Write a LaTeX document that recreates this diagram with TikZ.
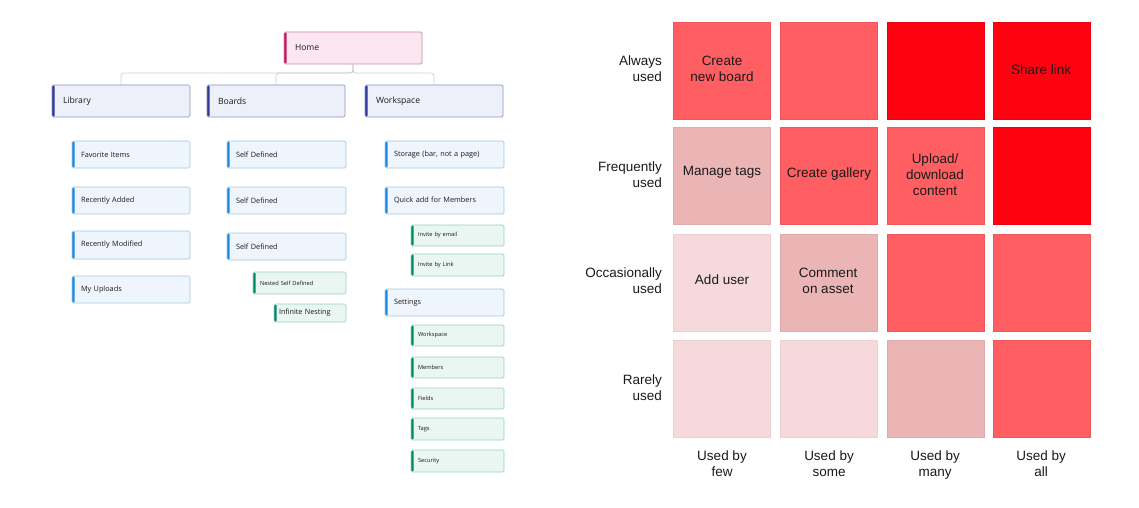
\documentclass[tikz,border=0pt]{standalone}
\usepackage{fontspec}
\setmainfont{Liberation Sans}
\newfontfamily\treefont{Open Sans}
\definecolor{homefill}{HTML}{FCE6EF}
\definecolor{homedraw}{HTML}{C98AA8}
\definecolor{homebar}{HTML}{C2185B}
\definecolor{l1fill}{HTML}{EEF0F9}
\definecolor{l1draw}{HTML}{8C90BE}
\definecolor{l1bar}{HTML}{2E3A9A}
\definecolor{l2fill}{HTML}{EEF5FC}
\definecolor{l2draw}{HTML}{A6C8E2}
\definecolor{l2bar}{HTML}{1E88E5}
\definecolor{l3fill}{HTML}{E9F6F1}
\definecolor{l3draw}{HTML}{96D2C0}
\definecolor{l3bar}{HTML}{008A68}
\definecolor{connc}{HTML}{CFCFCF}
\definecolor{hstrong}{HTML}{FF0212}
\definecolor{hmed}{HTML}{FF5F63}
\definecolor{hlight}{HTML}{EBB5B6}
\definecolor{hvlight}{HTML}{F6DADB}
\definecolor{txt}{HTML}{1A1A1A}
\tikzset{
  tbase/.style={rectangle, rounded corners=1.5pt, line width=0.7pt, outer sep=0pt, text=txt},
  barstyle/.style={path picture={\fill[#1] (path picture bounding box.south west) rectangle ([xshift=2.6pt]path picture bounding box.north west);}},
  homebox/.style={tbase, fill=homefill, draw=homedraw, barstyle=homebar, font=\treefont\fontsize{8.5}{10}\selectfont},
  lone/.style={tbase, fill=l1fill, draw=l1draw, barstyle=l1bar, font=\treefont\fontsize{8.6}{10}\selectfont},
  ltwo/.style={tbase, fill=l2fill, draw=l2draw, barstyle=l2bar, font=\treefont\fontsize{7.3}{9}\selectfont},
  lthree/.style={tbase, fill=l3fill, draw=l3draw, barstyle=l3bar, font=\treefont\fontsize{5.7}{7}\selectfont},
  lthreebig/.style={lthree, font=\treefont\fontsize{7.2}{9}\selectfont},
  conn/.style={draw=connc, line width=0.8pt, rounded corners=3pt},
  cell/.style={rectangle, anchor=north west, minimum width=97pt, minimum height=97pt, outer sep=0pt, inner sep=0pt, line width=0.4pt, align=center, text=txt, font=\fontsize{13.5}{16}\selectfont},
  cstrong/.style={cell, fill=hstrong, draw=hstrong!92!black},
  cmed/.style={cell, fill=hmed, draw=hmed!92!black},
  clight/.style={cell, fill=hlight, draw=hlight!95!black},
  cvlight/.style={cell, fill=hvlight, draw=hvlight!96!black},
  ctext/.style={align=center, text=txt, font=\fontsize{13.5}{16}\selectfont},
  axlab/.style={align=right, anchor=east, text=txt, inner sep=0pt, font=\fontsize{13.5}{16}\selectfont},
  collab/.style={align=center, anchor=north, text=txt, inner sep=0pt, font=\fontsize{13.5}{16}\selectfont},
}
% #1 style, #2 name, #3 x, #4 y, #5 w, #6 h, #7 inset, #8 text
\newcommand\tbx[8]{%
  \pgfmathsetmacro\tbxw{#5-2*#7}%
  \node[#1, anchor=north west, inner xsep=#7pt, inner ysep=0pt, text width=\tbxw pt, minimum height=#6pt, align=left] (#2) at (#3,#4) {#8};}
\begin{document}
\begin{tikzpicture}[x=1pt,y=-1pt]
\useasboundingbox[fill=white] (0,0) rectangle (1139,508);
% ---------- tree ----------
\tbx{homebox}{home}{284}{32}{138}{32}{11}{Home}
\tbx{lone}{library}{52}{85}{138}{32}{11}{Library}
\tbx{lone}{boards}{207}{85}{138}{32}{11}{Boards}
\tbx{lone}{workspace}{365}{85}{138}{32}{11}{Workspace}
\draw[conn] (home.south) -- ++(0,9) -| (library.north);
\draw[conn] (home.south) -- ++(0,9) -| (boards.north);
\draw[conn] (home.south) -- ++(0,9) -| (workspace.north);
% library children
\tbx{ltwo}{fav}{72}{141}{118}{27}{9}{Favorite Items}
\tbx{ltwo}{radded}{72}{187}{118}{27}{9}{Recently Added}
\tbx{ltwo}{rmod}{72}{231}{118}{28}{9}{Recently Modified}
\tbx{ltwo}{uploads}{72}{276}{118}{27}{9}{My Uploads}
% boards children
\tbx{ltwo}{sdone}{227}{141}{119}{27}{9}{Self Defined}
\tbx{ltwo}{sdtwo}{227}{187}{119}{27}{9}{Self Defined}
\tbx{ltwo}{sdthree}{227}{233}{119}{27}{9}{Self Defined}
\tbx{lthree}{nested}{253}{272}{93}{22}{7}{Nested Self Defined}
\tbx{lthreebig}{infinite}{274}{304}{72}{18}{5}{Infinite Nesting}
% workspace children
\tbx{ltwo}{storage}{385}{141}{119}{27}{9}{Storage (bar, not a page)}
\tbx{ltwo}{quickadd}{385}{187}{119}{27}{9}{Quick add for Members}
\tbx{lthree}{invemail}{411}{225}{93}{21}{7}{Invite by email}
\tbx{lthree}{invlink}{411}{254}{93}{22}{7}{Invite by Link}
\tbx{ltwo}{settings}{385}{289}{119}{27}{9}{Settings}
\tbx{lthree}{setws}{411}{325}{93}{21}{7}{Workspace}
\tbx{lthree}{setmem}{411}{357}{93}{21}{7}{Members}
\tbx{lthree}{setfields}{411}{388}{93}{21}{7}{Fields}
\tbx{lthree}{settags}{411}{418}{93}{22}{7}{Tags}
\tbx{lthree}{setsec}{411}{450}{93}{22}{7}{Security}
% ---------- heat map ----------
% row 1
\node[cmed]    (c11) at (673,22) {};
\node[cmed]    (c12) at (780,22) {};
\node[cstrong] (c13) at (887,22) {};
\node[cstrong] (c14) at (993,22) {};
% row 2
\node[clight]  (c21) at (673,127) {};
\node[cmed]    (c22) at (780,127) {};
\node[cmed]    (c23) at (887,127) {};
\node[cstrong] (c24) at (993,127) {};
% row 3
\node[cvlight] (c31) at (673,234) {};
\node[clight]  (c32) at (780,234) {};
\node[cmed]    (c33) at (887,234) {};
\node[cmed]    (c34) at (993,234) {};
% row 4
\node[cvlight] (c41) at (673,340) {};
\node[cvlight] (c42) at (780,340) {};
\node[clight]  (c43) at (887,340) {};
\node[cmed]    (c44) at (993,340) {};
% cell texts
\node[ctext] (t11) at (722,69) {Create\\new board};
\node[ctext] (t14) at (1041,70) {Share link};
\node[ctext] (t21) at (722,172) {Manage tags};
\node[ctext] (t22) at (829,174) {Create gallery};
\node[ctext] (t23) at (935,175) {Upload/\\download\\content};
\node[ctext] (t31) at (722,280) {Add user};
\node[ctext] (t32) at (828,281) {Comment\\on asset};
% row labels
\node[axlab] (ra) at (662,69) {Always\\used};
\node[axlab] (rf) at (662,175) {Frequently\\used};
\node[axlab] (ro) at (662,281) {Occasionally\\used};
\node[axlab] (rr) at (662,388) {Rarely\\used};
% column labels
\node[collab] (ca) at (722,451) {Used by\\few};
\node[collab] (cb) at (829,451) {Used by\\some};
\node[collab] (cc) at (935,451) {Used by\\many};
\node[collab] (cd) at (1041,451) {Used by\\all};
\end{tikzpicture}
\end{document}
